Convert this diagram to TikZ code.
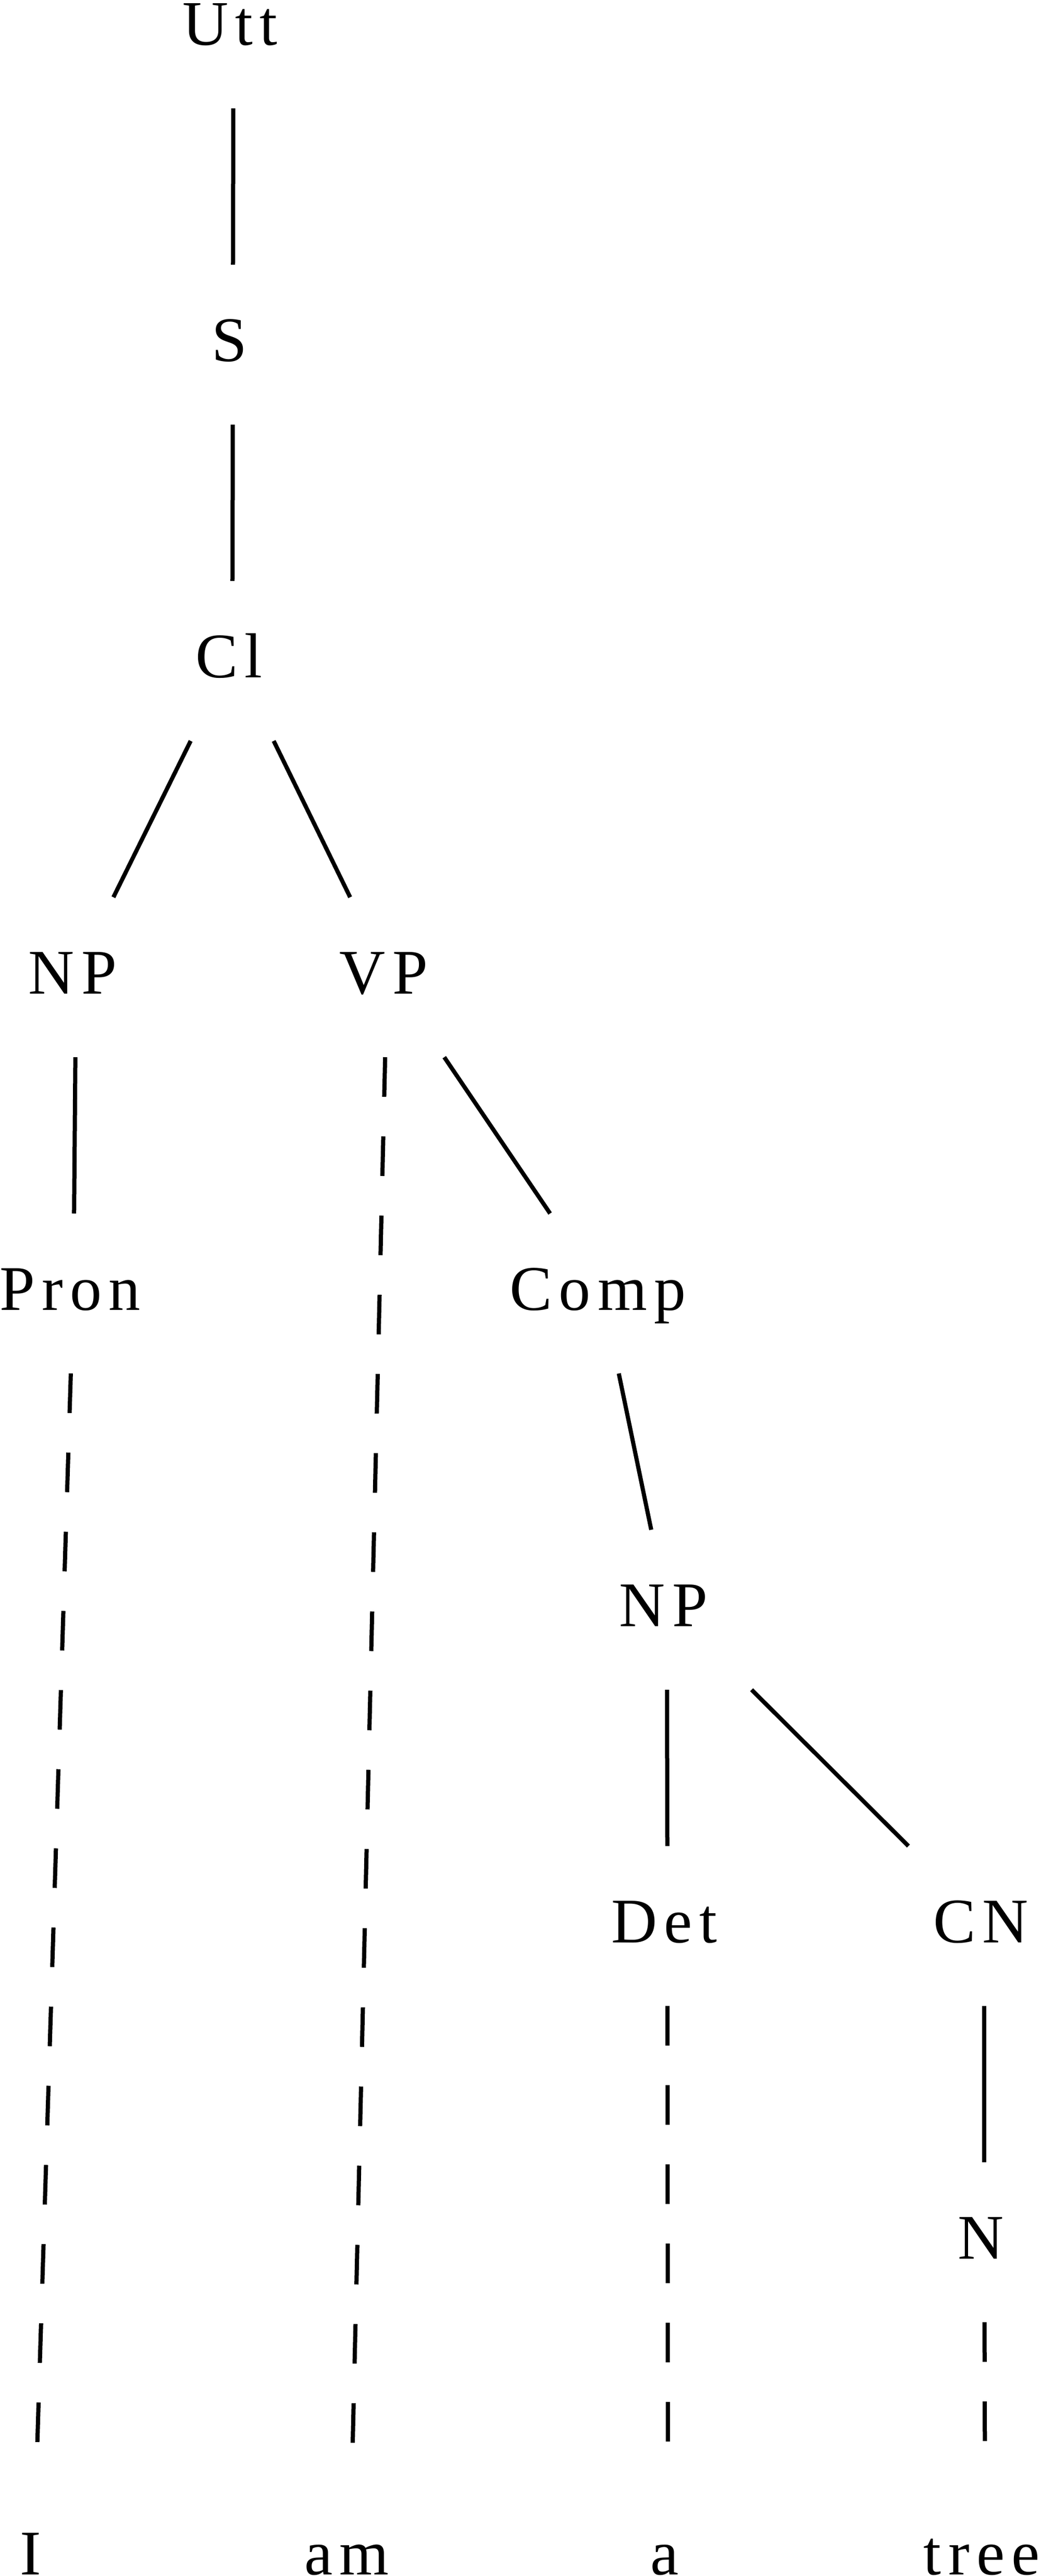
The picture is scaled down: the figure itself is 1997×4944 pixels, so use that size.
\documentclass[tikz,border=0pt]{standalone}
\usepackage{fontspec}
\newfontfamily\treefont{Liberation Serif}[LetterSpace=11]
\newcommand\trailsp{\kern13pt}
\usetikzlibrary{calc}
\begin{document}
\begin{tikzpicture}[x=1pt,y=-1pt,
  lab/.style={font=\treefont\fontsize{122}{130}\selectfont, inner sep=0pt, text height=80pt, text depth=0pt, anchor=center},
  edge/.style={line width=8pt},
  dashedge/.style={line width=8pt, dash pattern=on 76pt off 76pt}]
\useasboundingbox (0,0) rectangle (1997,4944);
% nodes (centre = middle of capital height)
\node[lab] (Utt)  at (448,46)   {Utt\trailsp};
\node[lab] (S)    at (447,653)  {S\trailsp};
\node[lab] (Cl)   at (446,1260) {Cl\trailsp};
\node[lab] (NPa)  at (146,1867) {NP\trailsp};
\node[lab] (VP)   at (743,1867) {VP\trailsp};
\node[lab] (Pron) at (141,2474) {Pron\trailsp};
\node[lab] (Comp) at (1154,2474) {Comp\trailsp};
\node[lab] (NPb)  at (1280,3081) {NP\trailsp};
\node[lab] (Det)  at (1281,3688) {Det\trailsp};
\node[lab] (CN)   at (1889,3688) {CN\trailsp};
\node[lab] (N)    at (1889,4295) {N\trailsp};
\node[lab] (wI)    at (65,4901)   {I\trailsp};
\node[lab] (wam)   at (672,4901)  {am\trailsp};
\node[lab] (wa)    at (1282,4901) {a\trailsp};
\node[lab] (wtree) at (1891,4901) {tree\trailsp};
% one-level edges
\draw[edge] ($(Utt)!0.2669!(S)$) -- ($(Utt)!0.7611!(S)$);
\draw[edge] ($(S)!0.2669!(Cl)$) -- ($(S)!0.7611!(Cl)$);
\draw[edge] ($(Cl)!0.2669!(NPa)$) -- ($(Cl)!0.7611!(NPa)$);
\draw[edge] ($(Cl)!0.2669!(VP)$) -- ($(Cl)!0.7611!(VP)$);
\draw[edge] ($(NPa)!0.2669!(Pron)$) -- ($(NPa)!0.7611!(Pron)$);
\draw[edge] ($(VP)!0.2669!(Comp)$) -- ($(VP)!0.7611!(Comp)$);
\draw[edge] ($(Comp)!0.2669!(NPb)$) -- ($(Comp)!0.7611!(NPb)$);
\draw[edge] ($(NPb)!0.2669!(Det)$) -- ($(NPb)!0.7611!(Det)$);
\draw[edge] ($(NPb)!0.2669!(CN)$) -- ($(NPb)!0.7611!(CN)$);
\draw[edge] ($(CN)!0.2669!(N)$) -- ($(CN)!0.7611!(N)$);
% dashed edges to the words
\draw[dashedge] ($(Pron)!0.0667!(wI)$) -- ($(Pron)!0.9403!(wI)$);
\draw[dashedge] ($(VP)!0.0534!(wam)$) -- ($(VP)!0.9535!(wam)$);
\draw[dashedge] ($(Det)!0.1334!(wa)$) -- ($(Det)!0.8806!(wa)$);
\draw[dashedge] ($(N)!0.2669!(wtree)$) -- ($(N)!0.7611!(wtree)$);
\end{tikzpicture}
\end{document}
